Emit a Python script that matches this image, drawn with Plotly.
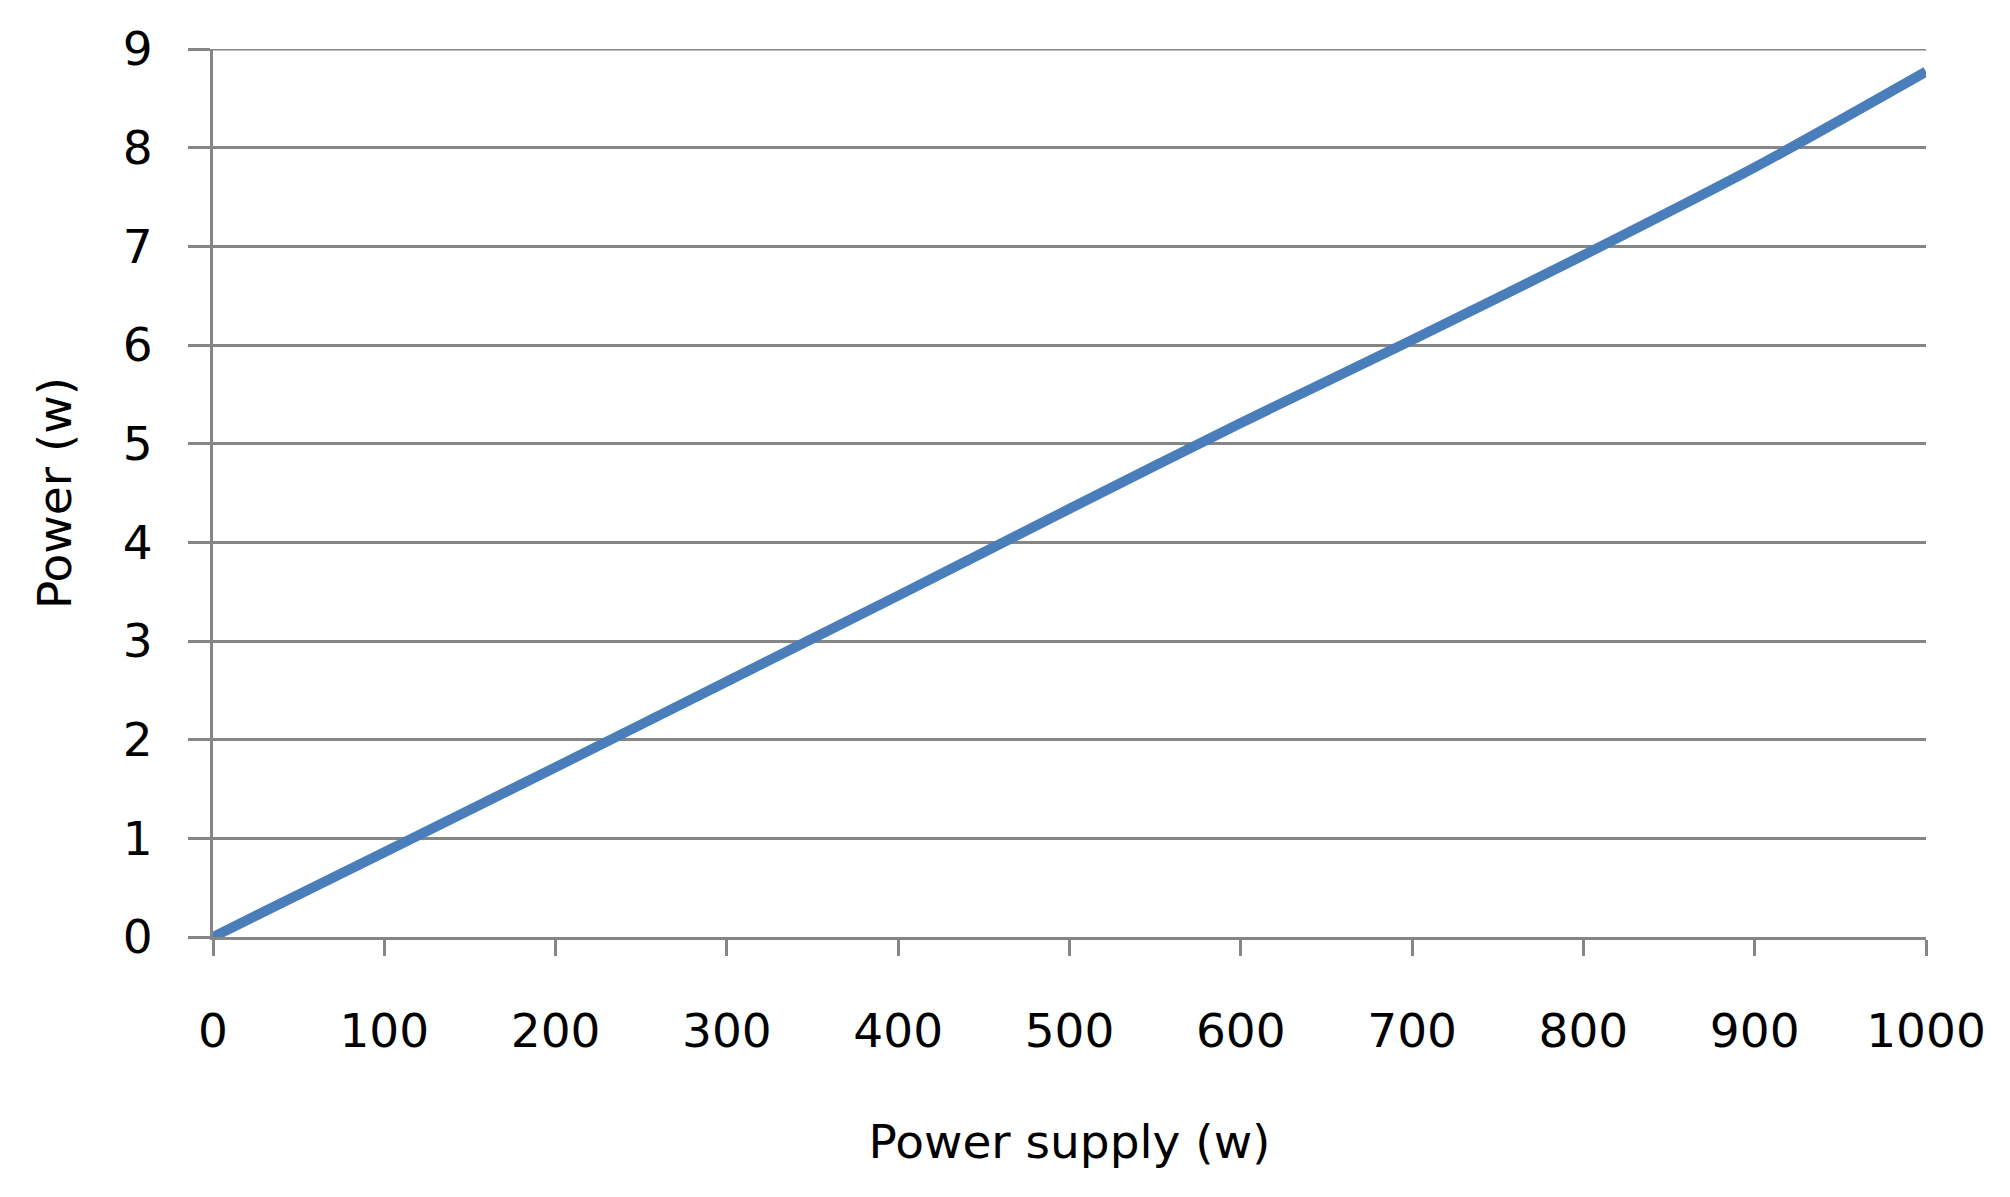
import plotly.graph_objects as go

# power supply (w) vs power (w)
supply = [0, 100, 200, 300, 400, 500, 600, 700, 800, 900, 1000]
power = [0.0, 0.86, 1.72, 2.59, 3.46, 4.34, 5.21, 6.05, 6.91, 7.80, 8.77]

x_ticks = [0, 100, 200, 300, 400, 500, 600, 700, 800, 900, 1000]
y_ticks = [0, 1, 2, 3, 4, 5, 6, 7, 8, 9]

GRID = "#868686"
FONT = "DejaVu Sans"
SIZE = 47

fig = go.Figure()
fig.add_trace(
    go.Scatter(
        x=supply,
        y=power,
        mode="lines",
        line=dict(color="#4A7EBB", width=10, shape="spline", smoothing=0.8),
        showlegend=False,
    )
)

fig.update_xaxes(
    range=[0, 1000],
    tickvals=x_ticks,
    showgrid=False,
    zeroline=False,
    showline=True,
    linecolor=GRID,
    linewidth=3,
    ticks="outside",
    ticklen=16,
    tickwidth=3,
    tickcolor=GRID,
    ticklabelstandoff=35,
    tickfont=dict(family=FONT, size=SIZE, color="black"),
    title=dict(text="Power supply (w)", font=dict(family=FONT, size=SIZE, color="black"), standoff=68),
)
fig.update_yaxes(
    range=[0, 9],
    tickvals=y_ticks,
    showgrid=True,
    gridcolor=GRID,
    gridwidth=3,
    zeroline=False,
    showline=True,
    linecolor=GRID,
    linewidth=3,
    ticks="outside",
    ticklen=22,
    tickwidth=3,
    tickcolor=GRID,
    ticklabelstandoff=26,
    tickfont=dict(family=FONT, size=SIZE, color="black"),
    title=dict(text="Power (w)", font=dict(family=FONT, size=SIZE, color="black"), standoff=37),
)

# top gridline sits on the edge of the range, so draw it explicitly
fig.add_shape(
    type="line", xref="paper", yref="y", x0=0, x1=1, y0=y_ticks[-1], y1=y_ticks[-1],
    line=dict(color=GRID, width=3), layer="below",
)

fig.update_layout(
    width=2010,
    height=1197,
    margin=dict(l=205, r=92, t=41, b=268),
    plot_bgcolor="white",
    paper_bgcolor="white",
)

fig.write_html("out.html")
